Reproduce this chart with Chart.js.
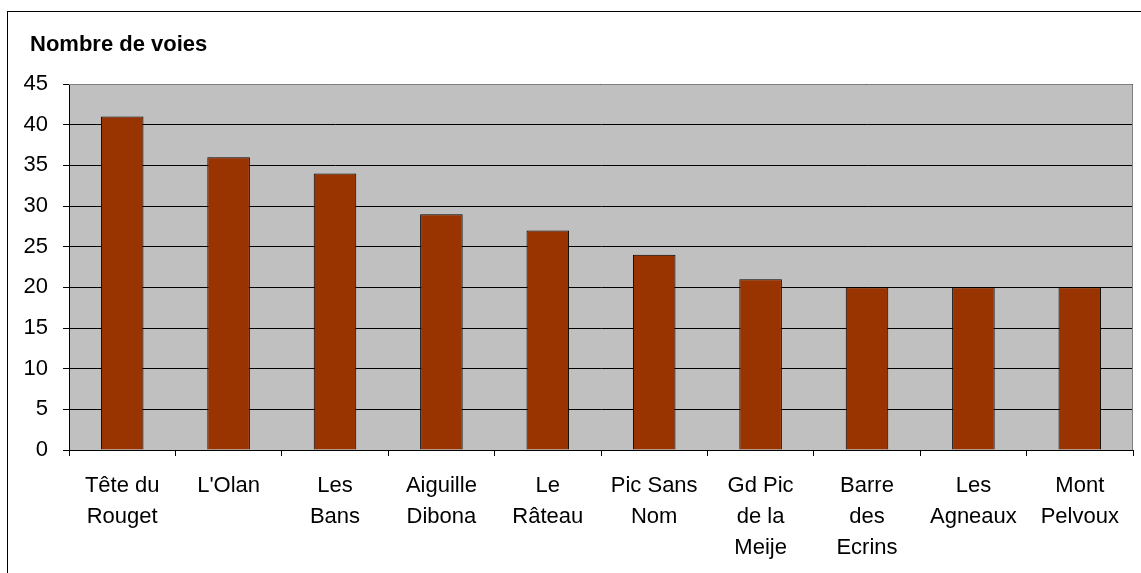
<!DOCTYPE html>
<html>
<head>
<meta charset="utf-8">
<script src="https://cdn.jsdelivr.net/npm/chart.js@4.4.1/dist/chart.umd.min.js"></script>
<style>
  html, body { margin: 0; padding: 0; background: #fff; overflow: hidden; }
  #wrap { position: relative; width: 1141px; height: 573px; overflow: hidden; }
  #frame { position: absolute; left: 7px; top: 11px; width: 1200px; height: 600px; border: 1px solid #000; }
  canvas { position: absolute; left: 0; top: 0; }
</style>
</head>
<body>
<div id="wrap">
  <div id="frame"></div>
  <canvas id="chart" width="1141" height="573"></canvas>
</div>
<script>
// data
const sommets = [
  ["Tête du", "Rouget"], ["L'Olan"], ["Les", "Bans"], ["Aiguille", "Dibona"],
  ["Le", "Râteau"], ["Pic Sans", "Nom"], ["Gd Pic", "de la", "Meije"],
  ["Barre", "des", "Ecrins"], ["Les", "Agneaux"], ["Mont", "Pelvoux"]
];
const voies = [41, 36, 34, 29, 27, 24, 21, 20, 20, 20];
const yMax = 45;
const yStep = 5;
const titre = "Nombre de voies";

const font = "'Liberation Sans', Arial, sans-serif";

// gray plot background, plot border and title
const plotBg = {
  id: "plotBg",
  beforeDraw(chart) {
    const { ctx, chartArea: a } = chart;
    ctx.save();
    ctx.fillStyle = "#c0c0c0";
    ctx.fillRect(a.left, a.top, a.right - a.left, a.bottom - a.top);
    ctx.restore();
  },
  afterDraw(chart) {
    const { ctx, chartArea: a } = chart;
    ctx.save();
    ctx.strokeStyle = "#808080";
    ctx.lineWidth = 1;
    ctx.beginPath();
    ctx.moveTo(a.left, a.top + 0.5);
    ctx.lineTo(a.right - 0.5, a.top + 0.5);
    ctx.lineTo(a.right - 0.5, a.bottom);
    ctx.stroke();
    ctx.fillStyle = "#000";
    ctx.font = "bold 22px " + font;
    ctx.textBaseline = "middle";
    ctx.fillText(titre, 30, 45);
    ctx.restore();
  }
};

new Chart(document.getElementById("chart"), {
  type: "bar",
  data: {
    labels: sommets,
    datasets: [{
      data: voies,
      backgroundColor: "#993300",
      borderColor: "#000",
      borderWidth: 1,
      barPercentage: 0.4,
      categoryPercentage: 1
    }]
  },
  options: {
    responsive: false,
    animation: false,
    layout: { padding: { left: 0, top: 84, right: 8, bottom: 0 } },
    plugins: { legend: { display: false }, tooltip: { enabled: false } },
    scales: {
      x: {
        grid: { display: true, drawOnChartArea: false, color: "#000", tickLength: 6 },
        border: { color: "#000" },
        ticks: { color: "#000", font: { family: font, size: 22, lineHeight: 1.41 }, maxRotation: 0, autoSkip: false, padding: 14 },
        afterFit(s) { s.height = 123; }
      },
      y: {
        min: 0,
        max: yMax,
        grid: { color: "#000", tickLength: 6 },
        border: { color: "#000" },
        ticks: { stepSize: yStep, color: "#000", font: { family: font, size: 22 }, padding: 15 },
        afterFit(s) { s.width = 69; }
      }
    }
  },
  plugins: [plotBg]
});
</script>
</body>
</html>
